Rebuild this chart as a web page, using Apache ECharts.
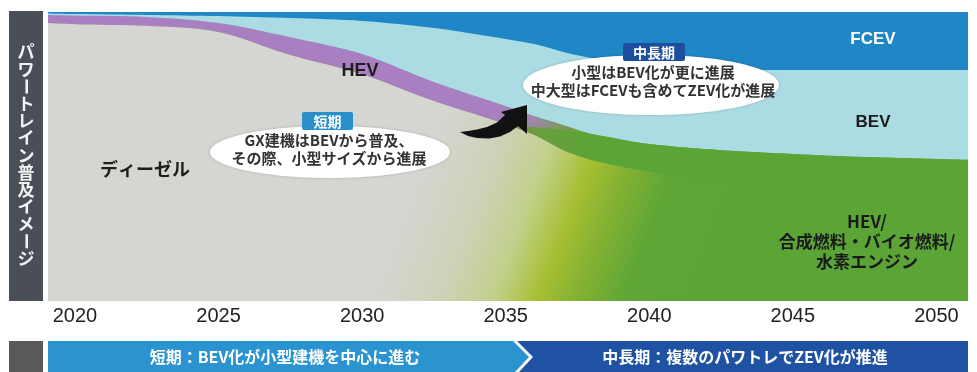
<!DOCTYPE html>
<html>
<head>
<meta charset="utf-8">
<script src="https://cdn.jsdelivr.net/npm/echarts@6/dist/echarts.min.js"></script>
<style>
  html, body { margin: 0; padding: 0; background: #fff; }
  #chart { width: 977px; height: 372px; }
</style>
</head>
<body>
<div id="chart"></div>
<script>
// Years at which the share of each powertrain is sampled
const years = [2019.06, 2020, 2022.5, 2025, 2027.5, 2030, 2032.5, 2035, 2036, 2037, 2038, 2040, 2042.5, 2045, 2047.5, 2050, 2051.1];

// Shares (%), listed bottom to top
const dieselShare = [96.2, 95.8, 95.2, 93.1, 85.1, 78.5, 69.2, 61.2, 57.4, 52.2, 48.8, 44.6, 40.8, 38.4, 36.7, 35.6, 35.3];
const altFuelShare = [0, 0, 0, 0, 0, 0, 0, 0.4, 2.8, 7.0, 9.0, 9.7, 11.4, 12.5, 13.1, 13.5, 13.5];
const hevShare = [2.8, 3.0, 3.1, 3.1, 6.2, 7.0, 6.6, 5.9, 3.8, 1.7, 0, 0, 0, 0, 0, 0, 0];
const bevShare = [0.5, 0.5, 0.7, 2.4, 6.6, 11.4, 18.7, 23.2, 24.9, 25.3, 26.3, 27.4, 28.1, 29.0, 30.1, 30.8, 31.1];
const fcevShare = [0.5, 0.7, 1.0, 1.4, 2.1, 3.1, 5.5, 9.3, 11.1, 13.8, 15.9, 18.3, 19.7, 20.1, 20.1, 20.1, 20.1];

// Axis tick labels
const tickYears = [2020, 2025, 2030, 2035, 2040, 2045, 2050];

const sideTitle = 'パワートレイン普及イメージ';
const phaseShort = '短期：BEV化が小型建機を中心に進む';
const phaseLong = '中長期：複数のパワトレでZEV化が推進';

const JP = '"Noto Sans CJK JP", "Noto Sans", sans-serif';
const LATIN = '"Liberation Sans", Arial, sans-serif';

const chart = echarts.init(document.getElementById('chart'), null, { renderer: 'canvas' });

// running totals: each layer's upper edge
function cumulative(layers) {
  return years.map((_, i) => layers.reduce((s, arr) => s + arr[i], 0));
}
const edgeDiesel = cumulative([dieselShare]);
const edgeAlt = cumulative([dieselShare, altFuelShare]);
const edgeHev = cumulative([dieselShare, altFuelShare, hevShare]);
const edgeBev = cumulative([dieselShare, altFuelShare, hevShare, bevShare]);
const edgeFcev = cumulative([dieselShare, altFuelShare, hevShare, bevShare, fcevShare]);

function pairs(vals) { return years.map((y, i) => [y, +vals[i].toFixed(2)]); }

// each band is filled from its upper edge down to 0; lower bands are painted over it
function layer(name, edge, color) {
  return {
    name: name,
    type: 'line',
    smooth: 0.3,
    symbol: 'none',
    lineStyle: { width: 0 },
    areaStyle: { color: color, opacity: 1, origin: 'start' },
    emphasis: { disabled: true },
    silent: true,
    data: pairs(edge)
  };
}

function linear(x, y, x2, y2, stops) {
  return { type: 'linear', x: x, y: y, x2: x2, y2: y2, global: true, colorStops: stops };
}

// diesel fading into green (synthetic / bio fuels)
const baseFill = linear(360, 180, 720, 318, [
  { offset: 0, color: '#d5d5d1' },
  { offset: 0.14, color: '#d5d5d1' },
  { offset: 0.31, color: '#cdd2b6' },
  { offset: 0.43, color: '#c2d08c' },
  { offset: 0.54, color: '#a6bf32' },
  { offset: 0.63, color: '#85b232' },
  { offset: 0.75, color: '#5fa637' },
  { offset: 1, color: '#5aa536' }
]);

const altFill = linear(495, 0, 600, 0, [
  { offset: 0, color: '#828f4c' },
  { offset: 0.5, color: '#67a03c' },
  { offset: 1, color: '#5aa536' }
]);

const hevFill = linear(495, 0, 585, 0, [
  { offset: 0, color: '#a880c2' },
  { offset: 0.45, color: '#9a88a6' },
  { offset: 0.75, color: '#7f9a58' },
  { offset: 1, color: '#5ea536' }
]);

// vertical side title, one glyph per row; the long-vowel mark is turned upright
const titleChars = Array.from(sideTitle).map((ch, i) => ({
  type: 'text',
  z: 11,
  x: 26,
  y: 52 + i * 17.2,
  rotation: ch === 'ー' ? -Math.PI / 2 : 0,
  style: { text: ch, fill: '#f2f2f2', font: 'bold 17px ' + JP, align: 'center', verticalAlign: 'middle' }
}));

function label(text, x, y, size, color, family) {
  return {
    type: 'text', x: x, y: y, z: 20,
    style: { text: text, fill: color, font: 'bold ' + size + 'px ' + family, align: 'center', verticalAlign: 'middle', lineHeight: 20 }
  };
}

function bubble(cx, cy, rx, ry) {
  return {
    type: 'ellipse', z: 15,
    shape: { cx: cx, cy: cy, rx: rx, ry: ry },
    style: { fill: '#ffffff', shadowBlur: 3, shadowColor: 'rgba(0,0,0,0.2)' }
  };
}

function tag(text, x, y, w, h, color) {
  return [
    { type: 'rect', z: 18, shape: { x: x, y: y, width: w, height: h, r: 2 }, style: { fill: color } },
    { type: 'text', z: 19, x: x + w / 2, y: y + h / 2 + 1, style: { text: text, fill: '#fff', font: 'bold 14px ' + JP, align: 'center', verticalAlign: 'middle' } }
  ];
}

// outline of the curved transition arrow
const arrowOutline = [
  [460, 132], [468, 131], [477, 129.5], [487, 127], [497, 122.5], [505, 115],
  [501, 112], [527, 105], [527, 134], [518, 126],
  [510, 132], [500, 136.5], [489, 138.5], [477, 138], [468, 136]
];

const option = {
  animation: false,
  backgroundColor: '#ffffff',
  grid: { left: 48, right: 9, top: 12, bottom: 71, containLabel: false },
  xAxis: {
    type: 'value',
    min: years[0],
    max: years[years.length - 1],
    splitLine: { show: false },
    axisLine: { show: false },
    axisTick: { show: false },
    axisLabel: {
      customValues: tickYears,
      formatter: v => String(Math.round(v)),
      color: '#222',
      fontSize: 20,
      fontFamily: LATIN,
      margin: 5
    }
  },
  yAxis: { type: 'value', min: 0, max: 100, show: false, splitLine: { show: false } },
  series: [
    layer('FCEV', edgeFcev, '#1f87c6'),
    layer('BEV', edgeBev, '#abdce3'),
    layer('HEV', edgeHev, hevFill),
    layer('HEV/合成燃料・バイオ燃料/水素エンジン', edgeAlt, altFill),
    layer('ディーゼル', edgeDiesel, baseFill)
  ],
  graphic: [
    { type: 'rect', z: 10, shape: { x: 9, y: 11, width: 34, height: 290 }, style: { fill: '#4a4f57' } },
    ...titleChars,

    // phase bar
    { type: 'rect', z: 10, shape: { x: 9, y: 341, width: 34, height: 31 }, style: { fill: '#58595b' } },
    { type: 'polygon', z: 10, shape: { points: [[48, 341], [513, 341], [529, 357], [515, 372], [48, 372]] }, style: { fill: '#2b93d0' } },
    { type: 'polygon', z: 10, shape: { points: [[517, 341], [968, 341], [968, 372], [519, 372], [533, 357]] }, style: { fill: '#1f52a3' } },
    { type: 'text', z: 11, x: 285, y: 357, style: { text: phaseShort, fill: '#fff', font: 'bold 16px ' + JP, align: 'center', verticalAlign: 'middle' } },
    { type: 'text', z: 11, x: 745, y: 357, style: { text: phaseLong, fill: '#fff', font: 'bold 16px ' + JP, align: 'center', verticalAlign: 'middle' } },

    // area names
    label('HEV', 360, 71, 18, '#1e1e1e', LATIN),
    label('ディーゼル', 145, 169, 18, '#1e1e1e', JP),
    label('FCEV', 873, 39, 17, '#ffffff', LATIN),
    label('BEV', 873, 122, 17, '#1a1a1a', LATIN),
    label('HEV/\n合成燃料・バイオ燃料/\n水素エンジン', 867, 242, 17, '#1a1a1a', JP),

    // short-term note
    bubble(330, 152, 120, 26),
    ...tag('短期', 302, 112, 51, 18, '#2b8fcb'),
    { type: 'text', z: 19, x: 329, y: 149, style: { text: 'GX建機はBEVから普及、\nその際、小型サイズから進展', fill: '#333', font: 'bold 15px ' + JP, align: 'center', verticalAlign: 'middle', lineHeight: 18 } },

    // mid/long-term note
    bubble(651, 85, 128, 30),
    ...tag('中長期', 623, 43, 62, 18, '#1e4f9f'),
    { type: 'text', z: 19, x: 653, y: 81, style: { text: '小型はBEV化が更に進展\n中大型はFCEVも含めてZEV化が進展', fill: '#333', font: 'bold 15px ' + JP, align: 'center', verticalAlign: 'middle', lineHeight: 18 } },

    // transition arrow
    { type: 'polygon', z: 16, shape: { points: arrowOutline, smooth: 0 }, style: { fill: '#111' } }
  ]
};

chart.setOption(option);
</script>
</body>
</html>
